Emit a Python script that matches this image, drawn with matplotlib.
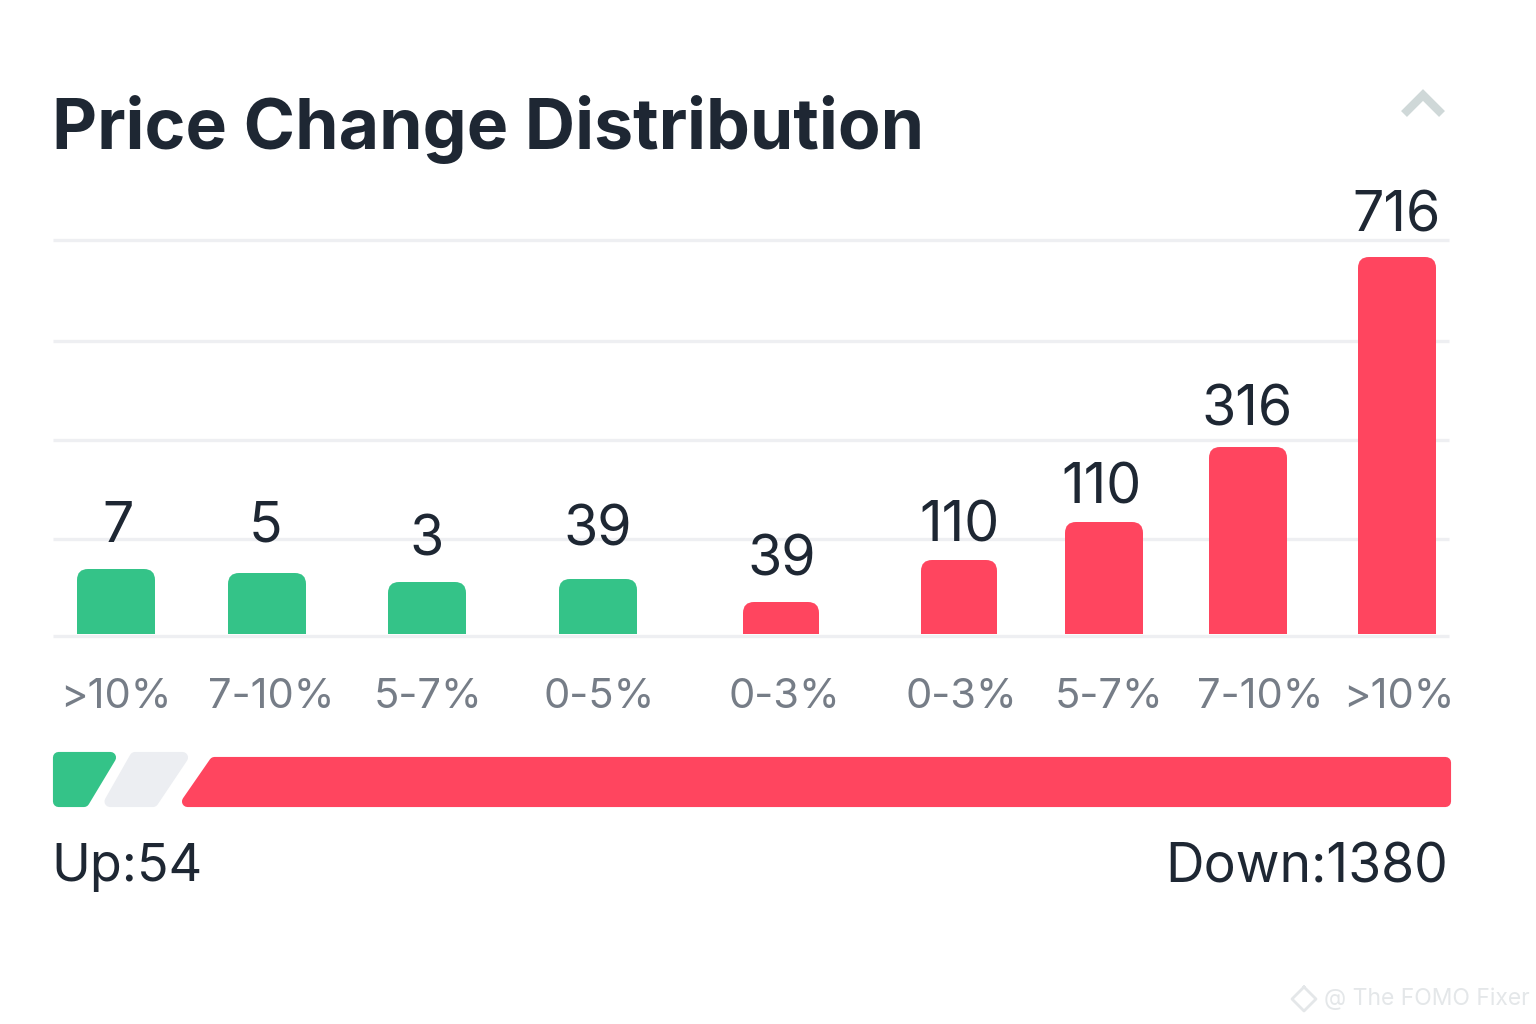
import matplotlib
matplotlib.use("Agg")
import matplotlib.pyplot as plt
from matplotlib.patches import FancyBboxPatch, Polygon

plt.rcParams['font.family'] = ['Inter', 'DejaVu Sans']

title = "Price Change Distribution"
categories = [">10%", "7-10%", "5-7%", "0-5%", "0-3%", "0-3%", "5-7%", "7-10%", ">10%"]
count_labels = ["7", "5", "3", "39", "39", "110", "110", "316", "716"]
bar_heights = [65, 61, 52, 55, 32, 74, 112, 187, 377]
directions = ["up", "up", "up", "up", "down", "down", "down", "down", "down"]
grid_levels = [95, 194, 293, 394]
up_total = 54
down_total = 1380

bar_centers = [116, 267, 427, 598, 781, 959, 1104, 1248, 1397]
bar_widths = [78, 78, 78, 78, 76, 76, 78, 78, 78]
label_x = [118, 265, 427, 598, 782, 960, 1102, 1247, 1397]
label_y = [527, 527, 540, 531, 560, 526, 489, 410, 216]
cat_x = [116, 271, 428, 599, 784, 961, 1109, 1260, 1399]

GREEN = "#34C388"
RED = "#FF455F"
INK = "#1E2733"
GREY = "#767D87"
GRID = "#EEEFF2"
TRACK = "#ECEEF2"

fig = plt.figure(figsize=(15.36, 10.24), dpi=100, facecolor="white")
W, H = 1536, 1024

# overlay in pixel units
ov = fig.add_axes([0, 0, 1, 1], zorder=3)
ov.set_xlim(0, W)
ov.set_ylim(H, 0)
ov.axis("off")
ov.patch.set_alpha(0)

# bar axes: x in pixels, y value 0 at baseline
base_px, top_px = 634, 240
ax = fig.add_axes([0, 1 - base_px / H, 1, (base_px - top_px) / H], zorder=1)
ax.set_xlim(0, W)
ax.set_ylim(0, base_px - top_px)
ax.axis("off")
ax.patch.set_alpha(0)

for g in grid_levels:
    ax.plot([53, 1449], [g, g], color=GRID, lw=2.4, clip_on=False, zorder=1, solid_capstyle="butt")
ov.plot([53, 1449], [636, 636], color=GRID, lw=2.4, solid_capstyle="butt", zorder=0)

colors = [GREEN if d == "up" else RED for d in directions]
bars = ax.bar(bar_centers, bar_heights, width=bar_widths, color=colors, zorder=2)
for b in bars:
    r = 11
    clip = FancyBboxPatch((b.get_x() + r, -40), b.get_width() - 2 * r, b.get_height() + 40 - r,
                          boxstyle=f"round,pad={r},rounding_size={r}", transform=ax.transData)
    b.set_clip_path(clip)

for x, y, s in zip(label_x, label_y, count_labels):
    ov.text(x, y, s, ha="center", va="center", fontsize=40, color=INK)
for x, s in zip(cat_x, categories):
    ov.text(x, 697, s, ha="center", va="center", fontsize=30, color=GREY)

ov.text(52, 129, title, ha="left", va="center", fontsize=50.2, fontweight="bold", color=INK)

# collapse chevron
ov.plot([1404, 1423, 1442], [114, 95, 114], color="#CFD8D8", lw=6, solid_joinstyle="miter", solid_capstyle="butt")

# split strip
def slanted(pts, color):
    ov.add_patch(Polygon(pts, closed=True, facecolor=color, edgecolor=color, lw=8, joinstyle="round"))

slanted([(58.5, 757.5), (110.5, 757.5), (84, 801.5), (58.5, 801.5)], GREEN)
slanted([(135, 757.5), (182.5, 757.5), (153, 801.5), (110, 801.5)], TRACK)
slanted([(214, 761.5), (1445, 761.5), (1445, 801), (187, 801)], RED)

ov.text(51, 868, f"Up:{up_total}", ha="left", va="center", fontsize=37.5, color=INK)
ov.text(1448, 868, f"Down:{down_total}", ha="right", va="center", fontsize=38.5, color=INK)

ov.text(1324, 999, "@ The FOMO Fixer", ha="left", va="center", fontsize=16.5, color="#E4E7E9")
ov.plot([1304, 1316, 1304, 1292, 1304], [987, 999, 1011, 999, 987], color="#E4E7E9", lw=2)

fig.savefig("out.png", dpi=100)
